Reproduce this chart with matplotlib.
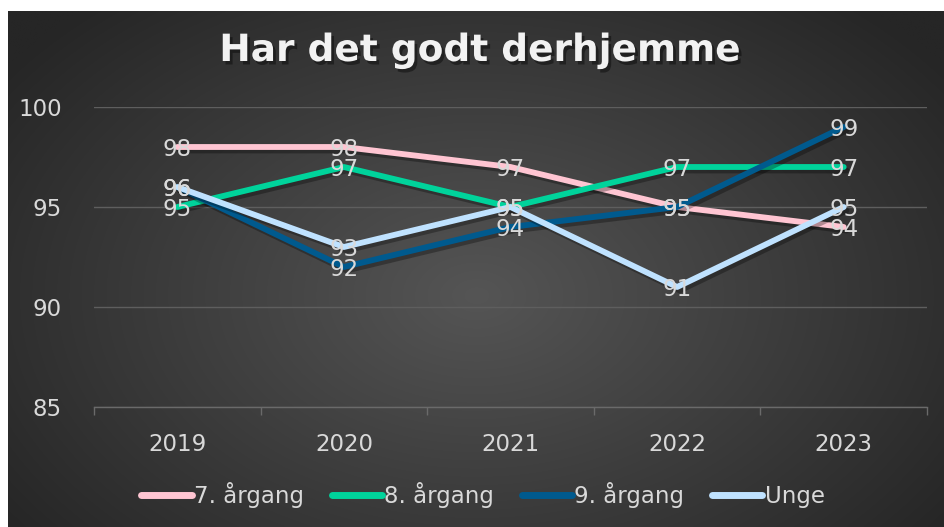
import numpy as np
import matplotlib
matplotlib.use("Agg")
import matplotlib.pyplot as plt
import matplotlib.patheffects as pe
from matplotlib.ticker import FixedLocator

years = ["2019", "2020", "2021", "2022", "2023"]
series_names = ["7. årgang", "8. årgang", "9. årgang", "Unge"]
v7 = [98, 98, 97, 95, 94]
v8 = [95, 97, 95, 97, 97]
v9 = [96, 92, 94, 95, 99]
unge = [96, 93, 95, 91, 95]
colors = ["#FFC5D2", "#00D39B", "#005A8E", "#BFE2FF"]
yticks = [85, 90, 95, 100]

W, H = 944, 527
fig = plt.figure(figsize=(W / 100, H / 100), dpi=100)
fig.patch.set_facecolor("white")

# background with radial gradient
bx0, by0 = 8 / W, 0
bg = fig.add_axes([bx0, by0, 1 - bx0, 1 - 11 / H])
ny, nx = 300, 500
yy, xx = np.mgrid[0:ny, 0:nx]
cx, cy = nx * 0.5, ny * 0.55
r = np.sqrt(((xx - cx) / (nx * 0.62)) ** 2 + ((yy - cy) / (ny * 0.75)) ** 2)
r = np.clip(r, 0, 1)
inner = np.array([0x55, 0x55, 0x55]) / 255
outer = np.array([0x26, 0x26, 0x26]) / 255
img = inner[None, None, :] * (1 - r[..., None]) + outer[None, None, :] * r[..., None]
bg.imshow(img, aspect="auto", extent=[0, 1, 0, 1], interpolation="bilinear")
bg.set_axis_off()

font = "DejaVu Sans"
txtc = "#D9D9D9"
fs = 16.5

left, right = 94 / W, 927 / W
top_px, bot_px = 107, 407
ax = fig.add_axes([left, 1 - bot_px / H, right - left, (bot_px - top_px) / H])
ax.set_facecolor("none")
ax.set_xlim(0, 5)
ax.set_ylim(85, 100)
x = np.arange(len(years)) + 0.5

for vals, c, name in zip([v7, v8, v9, unge], colors, series_names):
    ax.plot(x, vals, color=c, lw=4.2, solid_capstyle="round", solid_joinstyle="round",
            label=name, zorder=3,
            path_effects=[pe.SimpleLineShadow(offset=(2, -2.5), shadow_color="black", alpha=0.3),
                          pe.Normal()])
for vals in [v7, v8, v9, unge]:
    for xi, v in zip(x, vals):
        ax.text(xi, v - 0.12, str(v), ha="center", va="center", color=txtc,
                fontsize=fs, family=font, zorder=5)

ax.set_yticks(yticks)
ax.set_yticklabels([str(t) for t in yticks], family=font, fontsize=fs, color=txtc)
ax.yaxis.grid(True, color="#5E5E5E", lw=1)
ax.set_axisbelow(True)
ax.tick_params(axis="y", length=0, pad=23)
ax.set_xticks(x)
ax.set_xticklabels(years, family=font, fontsize=fs, color=txtc)
ax.tick_params(axis="x", length=0, pad=19)
ax.xaxis.set_minor_locator(FixedLocator(np.arange(0, 6)))
ax.tick_params(axis="x", which="minor", length=6, color="#6A6A6A", width=1, direction="out")
for s in ["top", "right", "left"]:
    ax.spines[s].set_visible(False)
ax.spines["bottom"].set_color("#6A6A6A")
ax.spines["bottom"].set_linewidth(1)

# title
fig.text(480 / W, 1 - 51 / H, "Har det godt derhjemme", ha="center", va="center",
         fontsize=27, fontweight="bold", family=font, color="#F2F2F2",
         path_effects=[pe.withSimplePatchShadow(offset=(2, -2.5), shadow_rgbFace="black", alpha=0.4)])

# legend
ax_w = right - left
ax_h = (bot_px - top_px) / H
leg_x = ((483 / W) - left) / ax_w
leg_y = ((1 - 495 / H) - (1 - bot_px / H)) / ax_h
leg = ax.legend(loc="center", bbox_to_anchor=(leg_x, leg_y),
                ncol=4, frameon=False,
                prop={"family": font, "size": fs}, labelcolor=txtc,
                handlelength=2.2, handletextpad=0.1, columnspacing=1.2)
for h in leg.get_lines():
    h.set_path_effects([pe.Normal()])
    h.set_linewidth(5)

fig.savefig("out.png", dpi=100, facecolor=fig.get_facecolor())
